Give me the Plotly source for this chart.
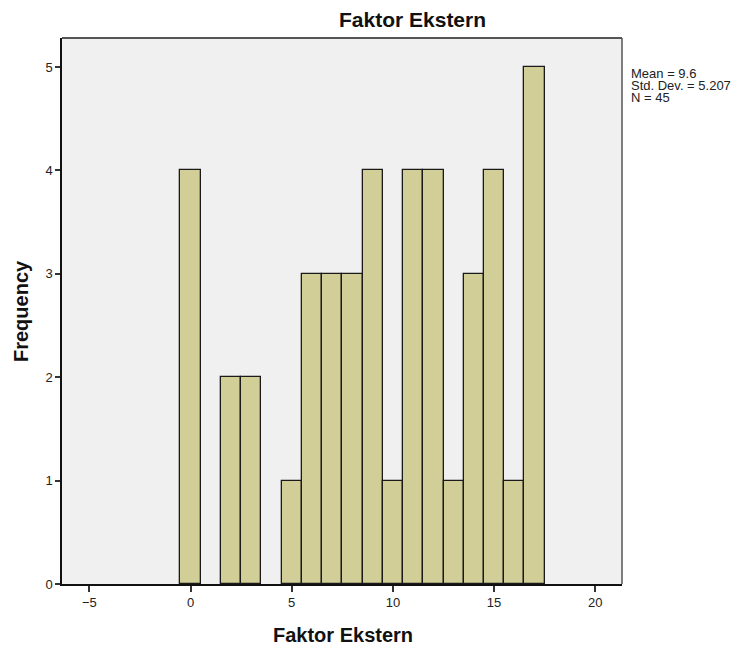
import plotly.graph_objects as go

# Data
bin_centers = [0, 1, 2, 3, 4, 5, 6, 7, 8, 9, 10, 11, 12, 13, 14, 15, 16, 17]
frequencies = [4, 0, 2, 2, 0, 1, 3, 3, 3, 4, 1, 4, 4, 1, 3, 4, 1, 5]
x_ticks = [-5, 0, 5, 10, 15, 20]
y_ticks = [0, 1, 2, 3, 4, 5]
stats_lines = ["Mean = 9.6", "Std. Dev. = 5.207", "N = 45"]
title_text = "Faktor Ekstern"
x_title = "Faktor Ekstern"
y_title = "Frequency"

xs = [c for c, f in zip(bin_centers, frequencies) if f > 0]
ys = [f for f in frequencies if f > 0]

OFF = 8  # page body margin
W, H = 746 - OFF, 650 - OFF
L, T = 62 - OFF, 38 - OFF
R = 746 - 622
B = 650 - 584
pw, ph = W - L - R, H - T - B


def px(xr):
    return (xr - OFF - L) / pw


def py(yr):
    return 1 - (yr - OFF - T) / ph


fig = go.Figure()
fig.add_trace(go.Bar(
    x=xs, y=ys, width=1.0,
    marker=dict(color="#D2CE98", line=dict(color="#1a1a1a", width=1.3)),
    hoverinfo="x+y", showlegend=False,
))

font_main = "Liberation Sans, Arial, sans-serif"

fig.update_layout(
    width=W, height=H,
    margin=dict(l=L, r=R, t=T, b=B),
    paper_bgcolor="white",
    plot_bgcolor="#F0F0F0",
    bargap=0,
    font=dict(family=font_main, size=13, color="#222"),
    xaxis=dict(
        range=[-6.35, 21.32], tickvals=x_ticks, ticks="outside", ticklen=6,
        tickwidth=1.5, tickcolor="#333", showgrid=False, zeroline=False,
        showline=True, linecolor="#111", linewidth=1.5, mirror=False,
        tickfont=dict(size=13, family=font_main, color="#222"),
    ),
    yaxis=dict(
        range=[0, 5.28], tickvals=y_ticks, ticks="outside", ticklen=5,
        tickwidth=1.5, tickcolor="#333", showgrid=False, zeroline=False,
        showline=True, linecolor="#111", linewidth=1.5, mirror=False,
        tickfont=dict(size=13, family=font_main, color="#222"),
    ),
)

# Frame top/right (gray)
fig.add_shape(type="line", xref="paper", yref="paper", x0=0, x1=1, y0=1, y1=1,
              line=dict(color="#555", width=2))
fig.add_shape(type="line", xref="paper", yref="paper", x0=1, x1=1, y0=0, y1=1,
              line=dict(color="#555", width=1.5))

# Title
fig.add_annotation(text="<b>" + title_text + "</b>", xref="paper", yref="paper",
                   x=px(412), y=py(20), showarrow=False,
                   xanchor="center", yanchor="middle",
                   font=dict(size=21, family=font_main, color="#111"))
# X title
fig.add_annotation(text="<b>" + x_title + "</b>", xref="paper", yref="paper",
                   x=px(343), y=py(635), showarrow=False,
                   xanchor="center", yanchor="middle",
                   font=dict(size=20, family=font_main, color="#111"))
# Y title
fig.add_annotation(text="<b>" + y_title + "</b>", xref="paper", yref="paper",
                   x=px(21), y=py(311), showarrow=False, textangle=-90,
                   xanchor="center", yanchor="middle",
                   font=dict(size=20, family=font_main, color="#111"))
# Stats
for i, line in enumerate(stats_lines):
    yc = 73 + 12 * i
    fig.add_annotation(text=line, xref="paper", yref="paper",
                       x=px(629), y=py(yc), showarrow=False,
                       xanchor="left", yanchor="middle",
                       font=dict(size=13, family=font_main, color="#222"))

fig.write_html("out.html")
